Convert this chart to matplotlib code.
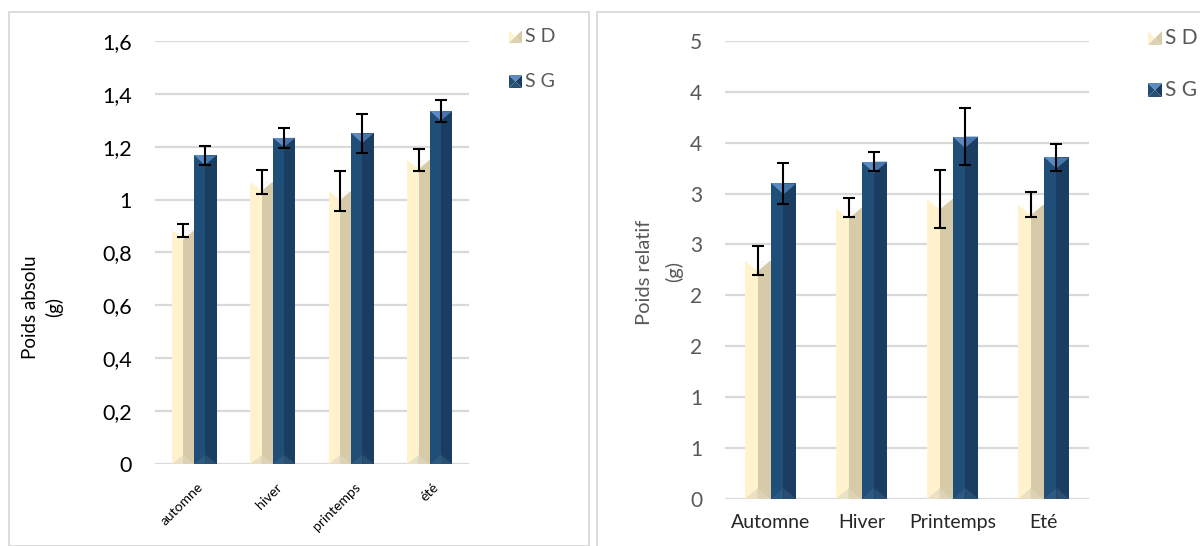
import matplotlib
matplotlib.use("Agg")
import matplotlib.pyplot as plt
from matplotlib.patches import Polygon, Rectangle
from matplotlib.transforms import offset_copy
import numpy as np

plt.rcParams['font.family'] = ['Lato', 'DejaVu Sans']

# ---------------- data ----------------
left_categories = ['automne', 'hiver', 'printemps', 'été']
left_sd = [0.884, 1.067, 1.033, 1.150]
left_sd_err = [0.025, 0.045, 0.076, 0.041]
left_sg = [1.167, 1.233, 1.250, 1.334]
left_sg_err = [0.037, 0.037, 0.075, 0.041]
left_ticks = [0, 0.2, 0.4, 0.6, 0.8, 1.0, 1.2, 1.4, 1.6]
left_ticklabels = ['0', '0,2', '0,4', '0,6', '0,8', '1', '1,2', '1,4', '1,6']

right_categories = ['Automne', 'Hiver', 'Printemps', 'Eté']
right_sd = [2.342, 2.859, 2.947, 2.892]
right_sd_err = [0.145, 0.094, 0.281, 0.123]
right_sg = [3.099, 3.313, 3.559, 3.354]
right_sg_err = [0.204, 0.092, 0.281, 0.137]
right_ticks = [0, 0.5, 1.0, 1.5, 2.0, 2.5, 3.0, 3.5, 4.0, 4.5]
right_ticklabels = ['0', '1', '1', '2', '2', '3', '3', '4', '4', '5']

series_names = ['S D', 'S G']

# ---------------- styles ----------------
SD_STYLE = dict(faceL='#FFF2CC', faceR='#D6CAA8', topL='#FFFFFF', topR='#FBFAF6',
                botL='#E9E0C6', botR='#DCD2B5')
SG_STYLE = dict(faceL='#1F4E79', faceR='#1A3E61', topL='#5B8BC2', topR='#4676AC',
                botL='#2F5980', botR='#2B4F70')

W, H = 1200, 546
fig = plt.figure(figsize=(W / 100, H / 100), dpi=100)
fig.patch.set_facecolor('white')


def px2fig(x, y):
    return x / W, 1 - y / H


# panel borders
for (x0, y0, x1, y1) in [(8.5, 11.5, 588.5, 545.5), (597, 11.5, 1210, 560)]:
    fx0, fy1 = px2fig(x0, y0)
    fx1, fy0 = px2fig(x1, y1)
    fig.add_artist(Rectangle((fx0, fy0), fx1 - fx0, fy1 - fy0, transform=fig.transFigure,
                             fill=False, edgecolor='#D9D9D9', lw=1.3))


def make_axes(x0, x1, y0, ytop):
    fx0, fy_top = px2fig(x0, ytop)
    fx1, fy_bot = px2fig(x1, y0)
    return fig.add_axes([fx0, fy_bot, fx1 - fx0, fy_top - fy_bot])


def draw_bars(ax, centers, vals, errs, w, st, ymax, ax_w_px, ax_h_px):
    centers = np.asarray(centers, float)
    vals = np.asarray(vals, float)
    px_per_x = ax_w_px / 4.0
    px_per_y = ax_h_px / ymax
    h = 0.42 * (w * px_per_x) / px_per_y
    ax.bar(centers - w / 4, vals, width=w / 2, color=st['faceL'], lw=0, zorder=2)
    ax.bar(centers + w / 4, vals, width=w / 2, color=st['faceR'], lw=0, zorder=2)
    for c, v in zip(centers, vals):
        xl, xm, xr = c - w / 2, c, c + w / 2
        ax.fill([xl, xm, xm], [v, v, v - h], color=st['topL'], lw=0, zorder=3)
        ax.fill([xm, xr, xm], [v, v, v - h], color=st['topR'], lw=0, zorder=3)
        ax.fill([xl, xm, xm], [0, 0, h], color=st['botL'], lw=0, zorder=3)
        ax.fill([xm, xr, xm], [0, 0, h], color=st['botR'], lw=0, zorder=3)
    ax.errorbar(centers, vals, yerr=errs, fmt='none', ecolor='black', elinewidth=1.5,
                capsize=4.3, capthick=1.5, zorder=5)


def style_axes(ax, ticks, ticklabels, ymax, color, size):
    ax.set_xlim(-0.5, 3.5)
    ax.set_ylim(0, ymax)
    for s in ax.spines.values():
        s.set_visible(False)
    ax.set_yticks(ticks)
    ax.set_yticklabels(ticklabels)
    ax.yaxis.grid(True, color='#D9D9D9', lw=1.6)
    ax.set_axisbelow(True)
    ax.tick_params(axis='y', length=0, pad=16.5, labelsize=size, labelcolor=color)
    ax.tick_params(axis='x', length=0)


def legend_marker(xc, yc, size, st):
    s = size / 2
    cx, cy = xc, yc
    corners = {'tl': (cx - s, cy - s), 'tr': (cx + s, cy - s),
               'bl': (cx - s, cy + s), 'br': (cx + s, cy + s)}
    tris = [
        (corners['tl'], corners['bl'], st['faceL']),
        (corners['tr'], corners['br'], st['faceR']),
        (corners['tl'], corners['tr'], st['topL']),
        (corners['bl'], corners['br'], st['botR']),
    ]
    for a, b, col in tris:
        pts = [px2fig(*a), px2fig(*b), px2fig(cx, cy)]
        fig.add_artist(Polygon(pts, closed=True, transform=fig.transFigure,
                               facecolor=col, edgecolor='none'))


w = 0.285
x = np.arange(4)

# ---------------- left chart ----------------
axL = make_axes(155, 469, 464, 40.8)
style_axes(axL, left_ticks, left_ticklabels, 1.6, 'black', 15.5)
draw_bars(axL, x - w / 2, left_sd, left_sd_err, w, SD_STYLE, 1.6, 314, 423.2)
draw_bars(axL, x + w / 2, left_sg, left_sg_err, w, SG_STYLE, 1.6, 314, 423.2)
axL.set_xticks(x)
axL.set_xticklabels([])
lab_tr = offset_copy(axL.get_xaxis_transform(), fig=fig, x=3, y=-17, units='dots')
for xi, lab in zip(x, left_categories):
    axL.text(xi, 0, lab, transform=lab_tr, ha='right', va='top', rotation=45,
             rotation_mode='anchor', fontsize=10, color='black')
fig.text(*px2fig(30, 307), 'Poids absolu', rotation=90, ha='center', va='center',
         fontsize=13.5, color='black')
fig.text(*px2fig(54, 307), '(g)', rotation=90, ha='center', va='center',
         fontsize=13.5, color='black')

for i, (name, st) in enumerate(zip(series_names, [SD_STYLE, SG_STYLE])):
    yc = 36.5 + i * 45
    legend_marker(515.5, yc, 13, st)
    fig.text(*px2fig(525, yc), name, ha='left', va='center', fontsize=14, color='#595959')

# ---------------- right chart ----------------
axR = make_axes(725, 1089, 499, 40.8)
style_axes(axR, right_ticks, right_ticklabels, 4.5, '#595959', 15)
draw_bars(axR, x - w / 2, right_sd, right_sd_err, w, SD_STYLE, 4.5, 364, 458.2)
draw_bars(axR, x + w / 2, right_sg, right_sg_err, w, SG_STYLE, 4.5, 364, 458.2)
axR.set_xticks(x)
axR.set_xticklabels(right_categories, fontsize=14, color='#262626')
axR.tick_params(axis='x', pad=11)
fig.text(*px2fig(645, 272), 'Poids relatif', rotation=90, ha='center', va='center',
         fontsize=14.5, color='#595959')
fig.text(*px2fig(674, 272), '(g)', rotation=90, ha='center', va='center',
         fontsize=14.5, color='#595959')

for i, (name, st) in enumerate(zip(series_names, [SD_STYLE, SG_STYLE])):
    yc = 38 + i * 52
    legend_marker(1155, yc, 14, st)
    fig.text(*px2fig(1165, yc), name, ha='left', va='center', fontsize=15, color='#595959')

fig.savefig('out.png', dpi=100)
